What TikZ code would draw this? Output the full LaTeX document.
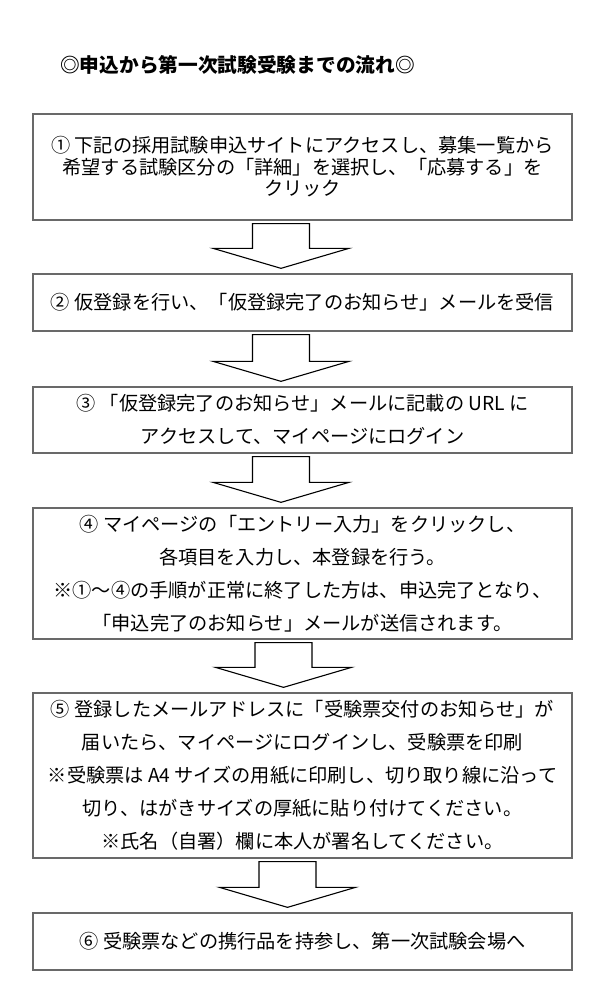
\documentclass[tikz,border=0pt]{standalone}
\usepackage{fontspec}
\setmainfont{Noto Sans CJK JP}
\usetikzlibrary{calc}
\definecolor{boxgray}{RGB}{105,105,105}
\newcommand\blkarrow[3]{%
  \path ($(#1.south)+(#3,3)$) coordinate (#1-at) ($(#2.north)+(#3,-5)$) coordinate (#1-tip);
  \draw[blockarrow] ($(#1-at)+(-28.5,0)$) -- ($(#1-tip)+(-28.5,-20)$) -- ($(#1-tip)+(-68,-20)$) -- (#1-tip)
    -- ($(#1-tip)+(68,-20)$) -- ($(#1-tip)+(28.5,-20)$) -- ($(#1-at)+(28.5,0)$) -- cycle;}
\begin{document}
\begin{tikzpicture}[x=1pt,y=-1pt,
  stepbox/.style={draw=boxgray,line width=1.3pt,minimum width=539pt,align=center,inner sep=0pt,
    font=\fontsize{19.2}{33}\selectfont},
  blockarrow/.style={draw=black,line width=1.1pt,line join=miter,fill=white},
  titletext/.style={anchor=west,inner sep=0pt,font=\fontsize{19.7}{22}\selectfont\bfseries}]
\useasboundingbox (0,0) rectangle (598,1000);
\node[titletext] (title) at (60,65) {◎申込から第一次試験受験までの流れ◎};
\node[stepbox,minimum height=106pt,font=\fontsize{19.2}{21.5}\selectfont] (b1) at (302.5,167)
  {① 下記の採用試験申込サイトにアクセスし、募集一覧から\\希望する試験区分の「詳細」を選択し、「応募する」を\\クリック};
\node[stepbox,minimum height=57pt] (b2) at (302.5,302.5)
  {② 仮登録を行い、「仮登録完了のお知らせ」メールを受信};
\node[stepbox,minimum height=66pt] (b3) at (302.5,420)
  {③ 「仮登録完了のお知らせ」メールに記載の URL に\\アクセスして、マイページにログイン};
\node[stepbox,minimum height=131pt] (b4) at (302.5,573.5)
  {④ マイページの「エントリー入力」をクリックし、\\各項目を入力し、本登録を行う。\\※①～④の手順が正常に終了した方は、申込完了となり、\\「申込完了のお知らせ」メールが送信されます。};
\node[stepbox,minimum height=165pt] (b5) at (302.5,775.5)
  {⑤ 登録したメールアドレスに「受験票交付のお知らせ」が\\届いたら、マイページにログインし、受験票を印刷\\※受験票は A4 サイズの用紙に印刷し、切り取り線に沿って\\切り、はがきサイズの厚紙に貼り付けてください。\\※氏名（自署）欄に本人が署名してください。};
\node[stepbox,minimum height=57pt] (b6) at (302.5,941.5)
  {⑥ 受験票などの携行品を持参し、第一次試験会場へ};
\blkarrow{b1}{b2}{-21.5}
\blkarrow{b2}{b3}{-21.5}
\blkarrow{b3}{b4}{-21.5}
\blkarrow{b4}{b5}{-19}
\blkarrow{b5}{b6}{-15}
\end{tikzpicture}
\end{document}
